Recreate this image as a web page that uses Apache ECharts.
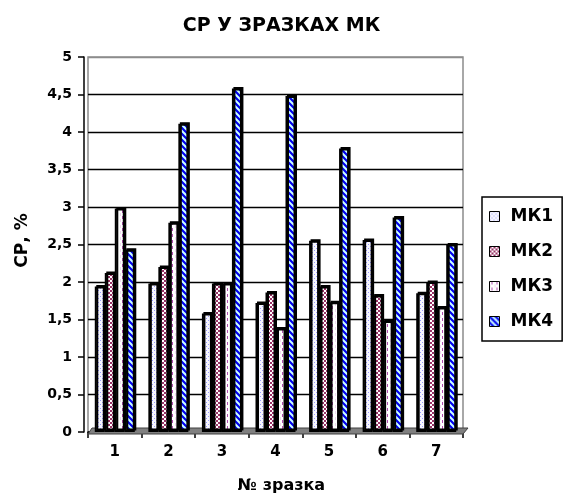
<!DOCTYPE html>
<html>
<head>
<meta charset="utf-8">
<script src="https://cdn.jsdelivr.net/npm/echarts@6/dist/echarts.min.js"></script>
<style>
  html, body { margin: 0; padding: 0; background: #fff; }
  #chart { width: 563px; height: 499px; }
</style>
</head>
<body>
<div id="chart"></div>
<script>
// Sample numbers on the category axis
var categories = ['1', '2', '3', '4', '5', '6', '7'];

// СР, % for each sample
var mk1 = [1.94, 1.98, 1.58, 1.72, 2.55, 2.56, 1.85];
var mk2 = [2.12, 2.20, 1.98, 1.86, 1.94, 1.82, 2.00];
var mk3 = [2.98, 2.79, 1.98, 1.38, 1.73, 1.48, 1.66];
var mk4 = [2.43, 4.11, 4.58, 4.48, 3.78, 2.86, 2.50];

var seriesNames = ['МК1', 'МК2', 'МК3', 'МК4'];

// Small canvas tiles used as hatch fills for the bars
function tile(w, h, draw) {
  var c = document.createElement('canvas');
  c.width = w; c.height = h;
  var g = c.getContext('2d');
  draw(g, w, h);
  return { image: c, repeat: 'repeat' };
}

var fillDots = tile(4, 4, function (g, w, h) {
  g.fillStyle = '#f6f6ff'; g.fillRect(0, 0, w, h);
  g.fillStyle = '#9a9aff';
  g.fillRect(0, 0, 1, 1); g.fillRect(2, 2, 1, 1);
});
var fillCheck = tile(4, 4, function (g, w, h) {
  g.fillStyle = '#ffffff'; g.fillRect(0, 0, w, h);
  g.fillStyle = '#993366';
  g.fillRect(0, 0, 2, 2); g.fillRect(2, 2, 2, 2);
});
var fillDash = tile(5, 6, function (g, w, h) {
  g.fillStyle = '#ffffff'; g.fillRect(0, 0, w, h);
  g.fillStyle = '#b04cb0';
  g.fillRect(2, 0, 1, 3);
  g.fillStyle = '#f0d8f0';
  g.fillRect(0, 3, 1, 3);
});
var fillStripe = tile(6, 6, function (g, w, h) {
  g.fillStyle = '#ccffff'; g.fillRect(0, 0, w, h);
  g.strokeStyle = '#0000ee'; g.lineWidth = 2.2;
  g.beginPath();
  g.moveTo(-6, 0); g.lineTo(6, 12);
  g.moveTo(0, 0); g.lineTo(6, 6);
  g.moveTo(0, -6); g.lineTo(12, 6);
  g.moveTo(-3, 3); g.lineTo(3, 9);
  g.stroke();
});

var fills = [fillDots, fillCheck, fillDash, fillStripe];
var values = [mk1, mk2, mk3, mk4];

var FONT = '"DejaVu Sans", sans-serif';

var series = seriesNames.map(function (name, i) {
  return {
    name: name,
    type: 'bar',
    data: values[i],
    barWidth: 10,
    barGap: '0%',
    z: 3,
    itemStyle: {
      color: fills[i],
      borderColor: '#000',
      borderWidth: 2,
      // solid black offset gives the bars a thick top cap and right edge
      shadowColor: '#000',
      shadowBlur: 0,
      shadowOffsetX: 1.5,
      shadowOffsetY: -1.5
    }
  };
});

var chart = echarts.init(document.getElementById('chart'), null, { renderer: 'canvas' });

chart.setOption({
  animation: false,
  backgroundColor: '#fff',
  title: {
    text: 'СР У ЗРАЗКАХ МК',
    left: 'center',
    top: 12,
    textStyle: { fontFamily: FONT, fontSize: 19, fontWeight: 'bold', color: '#000' }
  },
  legend: {
    orient: 'vertical',
    left: 482,
    top: 197,
    padding: [11, 9, 11, 7],
    itemGap: 18,
    itemWidth: 10,
    itemHeight: 10,
    icon: 'rect',
    borderColor: '#000',
    borderWidth: 1.5,
    data: seriesNames,
    itemStyle: { borderColor: '#000', borderWidth: 1, shadowColor: 'transparent' },
    textStyle: { fontFamily: FONT, fontSize: 17, fontWeight: 'bold', color: '#000', padding: [0, 0, 0, 6] }
  },
  grid: {
    left: 88,
    right: 100,
    top: 57,
    bottom: 67,
    show: true,
    borderColor: '#8c8c8c',
    borderWidth: 1.5,
    backgroundColor: 'transparent'
  },
  xAxis: {
    type: 'category',
    data: categories,
    offset: 2,
    name: '№ зразка',
    nameLocation: 'middle',
    nameGap: 44,
    nameTextStyle: { fontFamily: FONT, fontSize: 16, fontWeight: 'bold', color: '#000', padding: [0, 0, 0, 12] },
    axisLine: { lineStyle: { color: '#000', width: 1.5 } },
    axisTick: { show: true, length: 6, lineStyle: { color: '#000', width: 1.5 } },
    axisLabel: { fontFamily: FONT, fontSize: 15, fontWeight: 'bold', color: '#000', margin: 11 },
    splitLine: { show: false }
  },
  yAxis: {
    type: 'value',
    min: 0,
    max: 5,
    interval: 0.5,
    offset: 4,
    name: 'СР, %',
    nameLocation: 'middle',
    nameGap: 53,
    nameRotate: 90,
    nameTextStyle: { fontFamily: FONT, fontSize: 17, fontWeight: 'bold', color: '#000', padding: [0, 0, 0, 8] },
    axisLine: { show: true, lineStyle: { color: '#000', width: 1.5 } },
    axisTick: { show: true, length: 6, lineStyle: { color: '#000', width: 1.5 } },
    axisLabel: {
      fontFamily: FONT, fontSize: 14, fontWeight: 'bold', color: '#000', margin: 12,
      formatter: function (v) { return String(v).replace('.', ','); }
    },
    splitLine: {
      show: true,
      lineStyle: {
        color: ['#000', '#000', '#000', '#000', '#000', '#000', '#000', '#000', '#000', '#000', '#8c8c8c'],
        width: 1.4
      }
    }
  },
  series: series
});

// Grey floor strip under the bars
var p0 = chart.convertToPixel({ gridIndex: 0 }, [0, 0]);
var gridRect = chart.getModel().getComponent('grid', 0).coordinateSystem.getRect();
chart.setOption({
  graphic: [{
    type: 'polygon',
    z: 1,
    silent: true,
    shape: {
      points: [
        [gridRect.x, p0[1] + 2],
        [gridRect.x + gridRect.width, p0[1] + 2],
        [gridRect.x + gridRect.width + 5, p0[1] - 4],
        [gridRect.x + 4, p0[1] - 4]
      ]
    },
    style: { fill: '#808080', stroke: '#404040', lineWidth: 1 }
  }]
});
</script>
</body>
</html>
